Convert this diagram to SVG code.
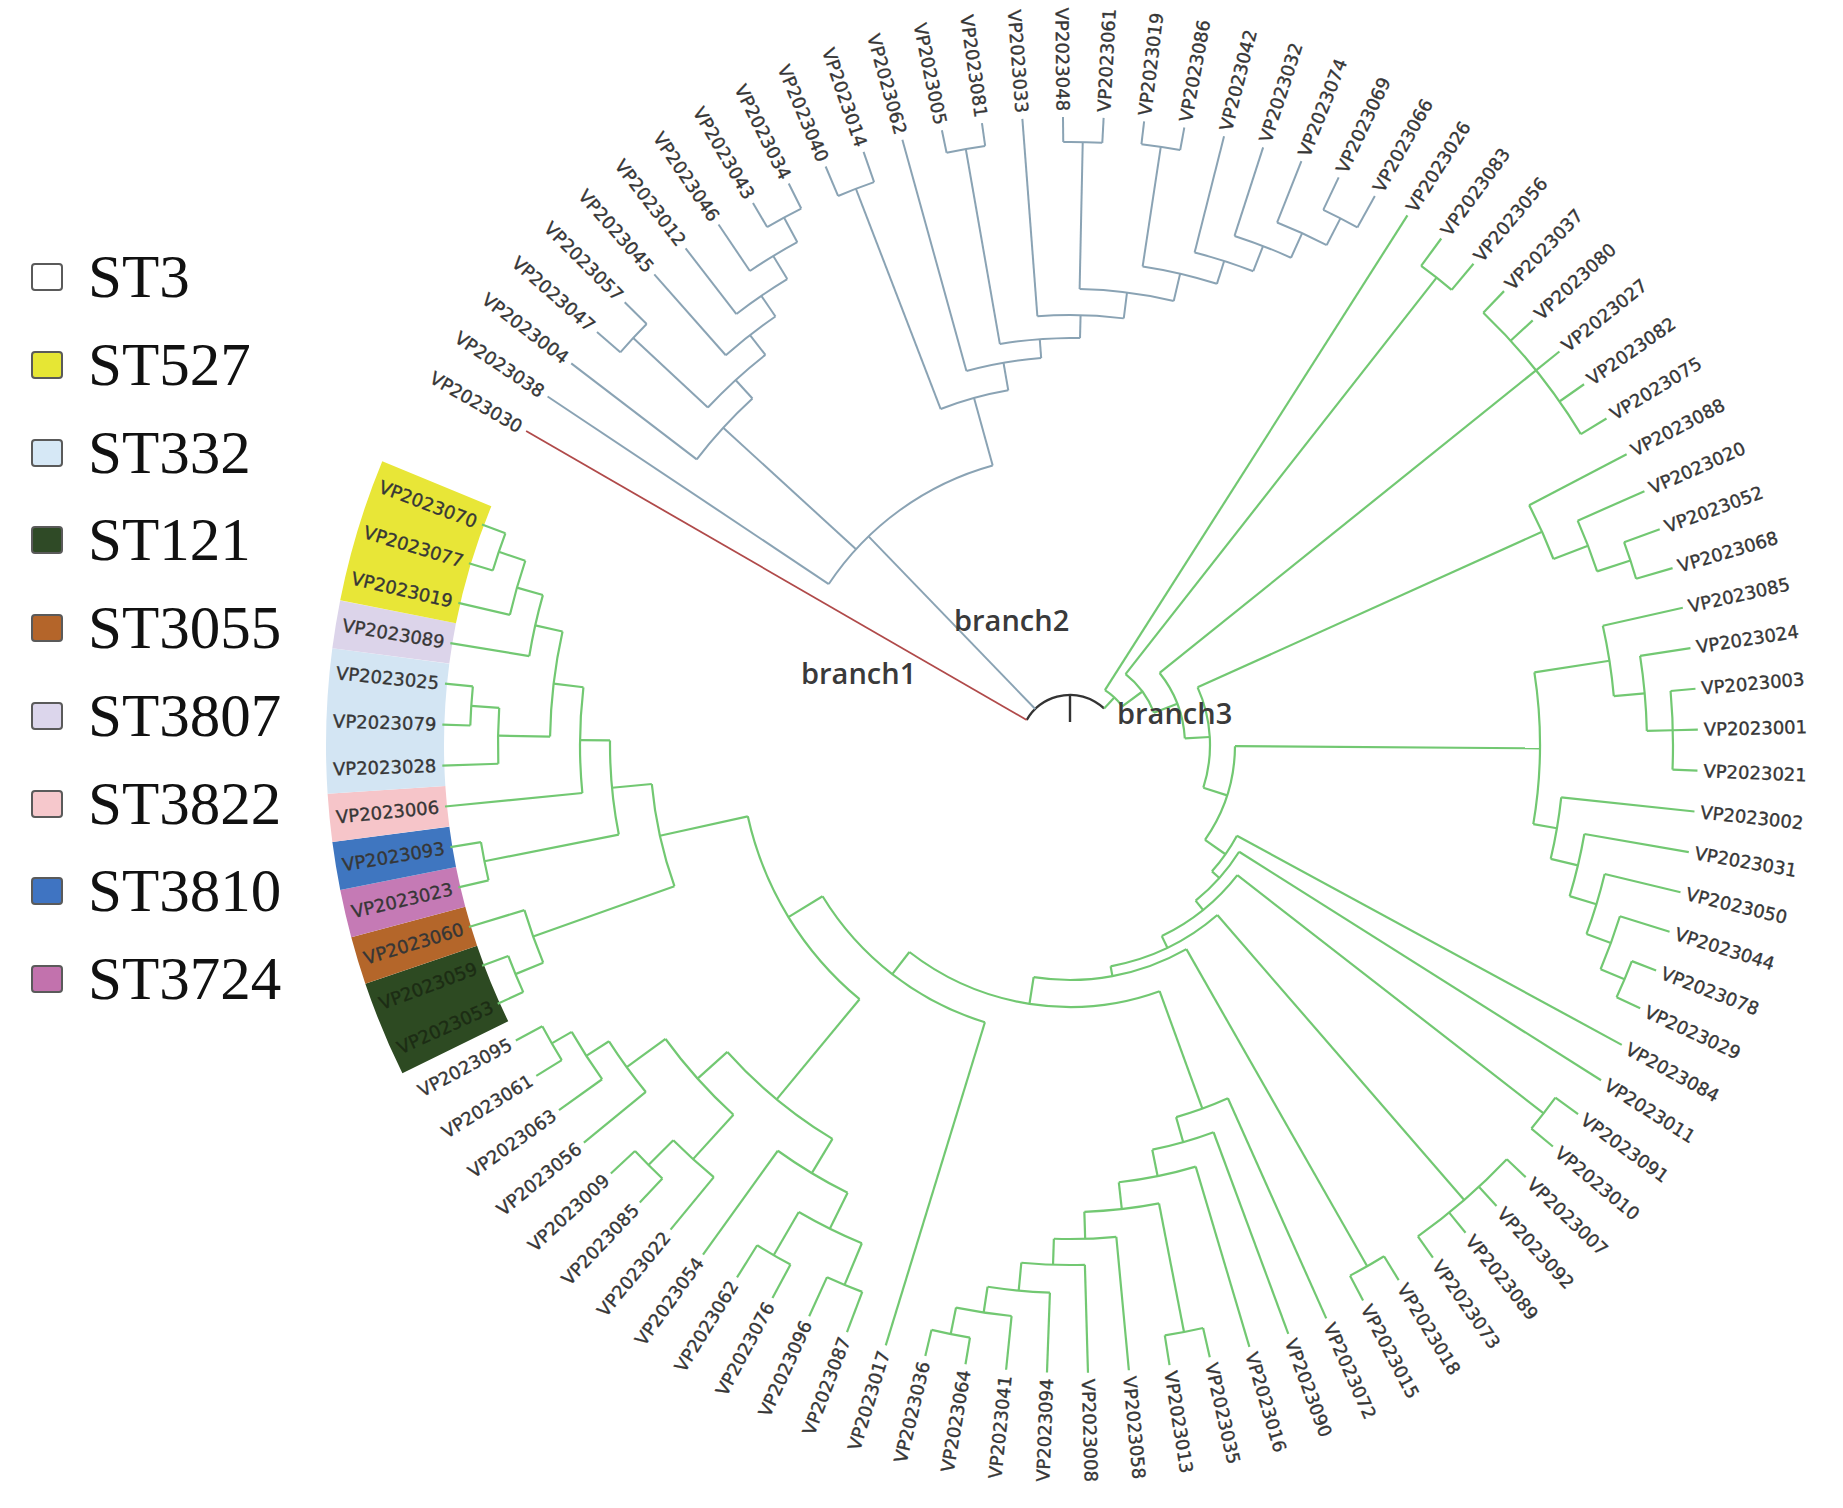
<svg xmlns="http://www.w3.org/2000/svg" width="1843" height="1508" viewBox="0 0 1843 1508">
<style>
.b1{stroke:#b04a4a;stroke-width:1.8;fill:none}
.b2{stroke:#8aa3b4;stroke-width:2;fill:none}
.b3{stroke:#72c872;stroke-width:2.2;fill:none}
.rt{stroke:#333;stroke-width:2.4;fill:none}
.lab{font-family:"DejaVu Sans",sans-serif;font-size:18px;fill:#363636;stroke:#363636;stroke-width:0.35}
.ll{text-anchor:end}
.dk{fill:#1c2c14;stroke:#1c2c14}
.leg{font-family:"Liberation Serif","Times New Roman",serif;font-size:61px;fill:#111}
.sq{stroke:#5a5a5a;stroke-width:2}
.br{font-family:"Open Sans",sans-serif;font-weight:600;font-size:29px;fill:#3a3a3a}
.hb{fill:none;stroke-width:118}
</style>
<rect width="1843" height="1508" fill="#fff"/>

<g id="legend">
<g id="legend-ST3"><rect class="sq" x="32" y="264" width="30" height="26" rx="3" fill="#ffffff"/><text class="leg" x="88" y="297">ST3</text></g>
<g id="legend-ST527"><rect class="sq" x="32" y="352" width="30" height="26" rx="3" fill="#e6e634"/><text class="leg" x="88" y="385">ST527</text></g>
<g id="legend-ST332"><rect class="sq" x="32" y="440" width="30" height="26" rx="3" fill="#d6e8f6"/><text class="leg" x="88" y="473">ST332</text></g>
<g id="legend-ST121"><rect class="sq" x="32" y="527" width="30" height="26" rx="3" fill="#2f4a26"/><text class="leg" x="88" y="560">ST121</text></g>
<g id="legend-ST3055"><rect class="sq" x="32" y="615" width="30" height="26" rx="3" fill="#b4652a"/><text class="leg" x="88" y="648">ST3055</text></g>
<g id="legend-ST3807"><rect class="sq" x="32" y="703" width="30" height="26" rx="3" fill="#dcd6ec"/><text class="leg" x="88" y="736">ST3807</text></g>
<g id="legend-ST3822"><rect class="sq" x="32" y="791" width="30" height="26" rx="3" fill="#f6c8cc"/><text class="leg" x="88" y="824">ST3822</text></g>
<g id="legend-ST3810"><rect class="sq" x="32" y="878" width="30" height="26" rx="3" fill="#3f74c2"/><text class="leg" x="88" y="911">ST3810</text></g>
<g id="legend-ST3724"><rect class="sq" x="32" y="966" width="30" height="26" rx="3" fill="#c272ad"/><text class="leg" x="88" y="999">ST3724</text></g>
</g>

<g id="highlights" transform="translate(1070 745)">
<circle class="hb" stroke="#2d4a22" r="685" pathLength="360" stroke-dasharray="7.48 400" transform="rotate(153.81)"/>
<circle class="hb" stroke="#b4662a" r="685" pathLength="360" stroke-dasharray="3.74 400" transform="rotate(161.29)"/>
<circle class="hb" stroke="#c57ab5" r="685" pathLength="360" stroke-dasharray="3.74 400" transform="rotate(165.03)"/>
<circle class="hb" stroke="#3f76c0" r="685" pathLength="360" stroke-dasharray="3.74 400" transform="rotate(168.77)"/>
<circle class="hb" stroke="#f6c5c9" r="685" pathLength="360" stroke-dasharray="3.74 400" transform="rotate(172.51)"/>
<circle class="hb" stroke="#d3e5f3" r="685" pathLength="360" stroke-dasharray="11.22 400" transform="rotate(176.25)"/>
<circle class="hb" stroke="#dcd4ea" r="685" pathLength="360" stroke-dasharray="3.74 400" transform="rotate(187.47)"/>
<circle class="hb" stroke="#e8e637" r="685" pathLength="360" stroke-dasharray="11.22 400" transform="rotate(191.21)"/>
</g>

<g id="connectors" transform="translate(1070 745)">
<g id="root">
<circle class="rt" r="50" pathLength="360" stroke-dasharray="103 400" transform="rotate(-150)"/>
<line class="rt" x1="23" x2="50" transform="rotate(-90)"/>
</g>
<g id="branch1-edges">
<line class="b1" x1="50" x2="628" transform="rotate(-150)"/>
</g>
<g id="branch2-edges">
<line class="b2" x1="50" x2="290" transform="rotate(-134)"/>
<circle class="b2" r="290" pathLength="360" stroke-dasharray="40.83 400" transform="rotate(-146.29)"/>
<circle class="b2" r="470" pathLength="360" stroke-dasharray="10.08 400" transform="rotate(-142.58)"/>
<circle class="b2" r="495" pathLength="360" stroke-dasharray="9.04 400" transform="rotate(-137.02)"/>
<circle class="b2" r="597" pathLength="360" stroke-dasharray="3.71 400" transform="rotate(-138.87)"/>
<circle class="b2" r="520" pathLength="360" stroke-dasharray="6.95 400" transform="rotate(-131.45)"/>
<circle class="b2" r="545" pathLength="360" stroke-dasharray="6.49 400" transform="rotate(-127.74)"/>
<circle class="b2" r="572" pathLength="360" stroke-dasharray="5.56 400" transform="rotate(-124.03)"/>
<circle class="b2" r="600" pathLength="360" stroke-dasharray="3.71 400" transform="rotate(-120.32)"/>
<circle class="b2" r="360" pathLength="360" stroke-dasharray="11.18 400" transform="rotate(-111.05)"/>
<circle class="b2" r="596" pathLength="360" stroke-dasharray="3.71 400" transform="rotate(-112.90)"/>
<circle class="b2" r="388" pathLength="360" stroke-dasharray="11.22 400" transform="rotate(-105.48)"/>
<circle class="b2" r="407" pathLength="360" stroke-dasharray="11.33 400" transform="rotate(-99.92)"/>
<circle class="b2" r="605" pathLength="360" stroke-dasharray="3.71 400" transform="rotate(-101.77)"/>
<circle class="b2" r="430" pathLength="360" stroke-dasharray="11.53 400" transform="rotate(-94.35)"/>
<circle class="b2" r="456" pathLength="360" stroke-dasharray="11.94 400" transform="rotate(-88.79)"/>
<circle class="b2" r="603" pathLength="360" stroke-dasharray="3.71 400" transform="rotate(-90.64)"/>
<circle class="b2" r="484" pathLength="360" stroke-dasharray="9.04 400" transform="rotate(-81.37)"/>
<circle class="b2" r="605" pathLength="360" stroke-dasharray="3.71 400" transform="rotate(-83.22)"/>
<circle class="b2" r="508" pathLength="360" stroke-dasharray="6.95 400" transform="rotate(-75.80)"/>
<circle class="b2" r="535" pathLength="360" stroke-dasharray="6.49 400" transform="rotate(-72.09)"/>
<circle class="b2" r="562" pathLength="360" stroke-dasharray="5.56 400" transform="rotate(-68.38)"/>
<circle class="b2" r="592" pathLength="360" stroke-dasharray="3.71 400" transform="rotate(-64.67)"/>
<line class="b2" x1="290" x2="628" transform="rotate(-146.29)"/>
<line class="b2" x1="290" x2="470" transform="rotate(-137.54)"/>
<line class="b2" x1="290" x2="360" transform="rotate(-105.46)"/>
<line class="b2" x1="470" x2="628" transform="rotate(-142.58)"/>
<line class="b2" x1="470" x2="495" transform="rotate(-132.50)"/>
<line class="b2" x1="495" x2="597" transform="rotate(-137.02)"/>
<line class="b2" x1="495" x2="520" transform="rotate(-127.98)"/>
<line class="b2" x1="597" x2="628" transform="rotate(-138.87)"/>
<line class="b2" x1="597" x2="628" transform="rotate(-135.16)"/>
<line class="b2" x1="520" x2="628" transform="rotate(-131.45)"/>
<line class="b2" x1="520" x2="545" transform="rotate(-124.50)"/>
<line class="b2" x1="545" x2="628" transform="rotate(-127.74)"/>
<line class="b2" x1="545" x2="572" transform="rotate(-121.25)"/>
<line class="b2" x1="572" x2="628" transform="rotate(-124.03)"/>
<line class="b2" x1="572" x2="600" transform="rotate(-118.47)"/>
<line class="b2" x1="600" x2="628" transform="rotate(-120.32)"/>
<line class="b2" x1="600" x2="628" transform="rotate(-116.61)"/>
<line class="b2" x1="360" x2="596" transform="rotate(-111.05)"/>
<line class="b2" x1="360" x2="388" transform="rotate(-99.87)"/>
<line class="b2" x1="596" x2="628" transform="rotate(-112.90)"/>
<line class="b2" x1="596" x2="628" transform="rotate(-109.19)"/>
<line class="b2" x1="388" x2="628" transform="rotate(-105.48)"/>
<line class="b2" x1="388" x2="407" transform="rotate(-94.26)"/>
<line class="b2" x1="407" x2="605" transform="rotate(-99.92)"/>
<line class="b2" x1="407" x2="430" transform="rotate(-88.59)"/>
<line class="b2" x1="605" x2="628" transform="rotate(-101.77)"/>
<line class="b2" x1="605" x2="628" transform="rotate(-98.06)"/>
<line class="b2" x1="430" x2="628" transform="rotate(-94.35)"/>
<line class="b2" x1="430" x2="456" transform="rotate(-82.82)"/>
<line class="b2" x1="456" x2="603" transform="rotate(-88.79)"/>
<line class="b2" x1="456" x2="484" transform="rotate(-76.85)"/>
<line class="b2" x1="603" x2="628" transform="rotate(-90.64)"/>
<line class="b2" x1="603" x2="628" transform="rotate(-86.93)"/>
<line class="b2" x1="484" x2="605" transform="rotate(-81.37)"/>
<line class="b2" x1="484" x2="508" transform="rotate(-72.33)"/>
<line class="b2" x1="605" x2="628" transform="rotate(-83.22)"/>
<line class="b2" x1="605" x2="628" transform="rotate(-79.51)"/>
<line class="b2" x1="508" x2="628" transform="rotate(-75.80)"/>
<line class="b2" x1="508" x2="535" transform="rotate(-68.85)"/>
<line class="b2" x1="535" x2="628" transform="rotate(-72.09)"/>
<line class="b2" x1="535" x2="562" transform="rotate(-65.60)"/>
<line class="b2" x1="562" x2="628" transform="rotate(-68.38)"/>
<line class="b2" x1="562" x2="592" transform="rotate(-62.82)"/>
<line class="b2" x1="592" x2="628" transform="rotate(-64.67)"/>
<line class="b2" x1="592" x2="628" transform="rotate(-60.96)"/>
</g>
<g id="branch3-edges">
<line class="b3" x1="50" x2="65" transform="rotate(-46.98)"/>
<circle class="b3" r="65" pathLength="360" stroke-dasharray="21.03 400" transform="rotate(-57.5)"/>
<circle class="b3" r="90" pathLength="360" stroke-dasharray="30.85 400" transform="rotate(-51.89)"/>
<circle class="b3" r="115" pathLength="360" stroke-dasharray="35.52 400" transform="rotate(-38.8)"/>
<circle class="b3" r="140" pathLength="360" stroke-dasharray="42.07 400" transform="rotate(-24.31)"/>
<circle class="b3" r="165" pathLength="360" stroke-dasharray="34.69 400" transform="rotate(0.41)"/>
<circle class="b3" r="190" pathLength="360" stroke-dasharray="13.16 400" transform="rotate(28.52)"/>
<circle class="b3" r="200" pathLength="360" stroke-dasharray="18.84 400" transform="rotate(32.26)"/>
<circle class="b3" r="212" pathLength="360" stroke-dasharray="26.48 400" transform="rotate(37.87)"/>
<circle class="b3" r="225" pathLength="360" stroke-dasharray="30.51 400" transform="rotate(49.09)"/>
<circle class="b3" r="235" pathLength="360" stroke-dasharray="38.59 400" transform="rotate(60.31)"/>
<circle class="b3" r="262" pathLength="360" stroke-dasharray="57.8 400" transform="rotate(70)"/>
<circle class="b3" r="290" pathLength="360" stroke-dasharray="41.51 400" transform="rotate(107.06)"/>
<circle class="b3" r="594" pathLength="360" stroke-dasharray="3.74 400" transform="rotate(-53.76)"/>
<circle class="b3" r="598" pathLength="360" stroke-dasharray="14.96 400" transform="rotate(-46.28)"/>
<circle class="b3" r="518" pathLength="360" stroke-dasharray="6.54 400" transform="rotate(-27.58)"/>
<circle class="b3" r="555" pathLength="360" stroke-dasharray="5.61 400" transform="rotate(-23.84)"/>
<circle class="b3" r="590" pathLength="360" stroke-dasharray="3.74 400" transform="rotate(-20.10)"/>
<circle class="b3" r="470" pathLength="360" stroke-dasharray="18.58 400" transform="rotate(-8.88)"/>
<circle class="b3" r="546" pathLength="360" stroke-dasharray="7.48 400" transform="rotate(-12.62)"/>
<circle class="b3" r="577" pathLength="360" stroke-dasharray="7.48 400" transform="rotate(-8.88)"/>
<circle class="b3" r="603" pathLength="360" stroke-dasharray="7.48 400" transform="rotate(-5.14)"/>
<circle class="b3" r="494" pathLength="360" stroke-dasharray="7.25 400" transform="rotate(6.08)"/>
<circle class="b3" r="522" pathLength="360" stroke-dasharray="7.01 400" transform="rotate(9.82)"/>
<circle class="b3" r="550" pathLength="360" stroke-dasharray="6.54 400" transform="rotate(13.56)"/>
<circle class="b3" r="576" pathLength="360" stroke-dasharray="5.61 400" transform="rotate(17.30)"/>
<circle class="b3" r="602" pathLength="360" stroke-dasharray="3.74 400" transform="rotate(21.04)"/>
<circle class="b3" r="600" pathLength="360" stroke-dasharray="3.74 400" transform="rotate(36.00)"/>
<circle class="b3" r="602" pathLength="360" stroke-dasharray="11.22 400" transform="rotate(43.48)"/>
<circle class="b3" r="600" pathLength="360" stroke-dasharray="3.74 400" transform="rotate(58.44)"/>
<circle class="b3" r="387" pathLength="360" stroke-dasharray="8.17 400" transform="rotate(65.92)"/>
<circle class="b3" r="413" pathLength="360" stroke-dasharray="8.85 400" transform="rotate(69.66)"/>
<circle class="b3" r="440" pathLength="360" stroke-dasharray="10.23 400" transform="rotate(73.40)"/>
<circle class="b3" r="467" pathLength="360" stroke-dasharray="9.23 400" transform="rotate(79.01)"/>
<circle class="b3" r="598" pathLength="360" stroke-dasharray="3.74 400" transform="rotate(77.14)"/>
<circle class="b3" r="494" pathLength="360" stroke-dasharray="7.25 400" transform="rotate(84.62)"/>
<circle class="b3" r="520" pathLength="360" stroke-dasharray="7.01 400" transform="rotate(88.36)"/>
<circle class="b3" r="548" pathLength="360" stroke-dasharray="6.55 400" transform="rotate(92.10)"/>
<circle class="b3" r="574" pathLength="360" stroke-dasharray="5.61 400" transform="rotate(95.84)"/>
<circle class="b3" r="601" pathLength="360" stroke-dasharray="3.74 400" transform="rotate(99.58)"/>
<circle class="b3" r="330" pathLength="360" stroke-dasharray="37.9 400" transform="rotate(129.62)"/>
<circle class="b3" r="460" pathLength="360" stroke-dasharray="17.06 400" transform="rotate(121.09)"/>
<circle class="b3" r="500" pathLength="360" stroke-dasharray="9.35 400" transform="rotate(116.41)"/>
<circle class="b3" r="540" pathLength="360" stroke-dasharray="7.48 400" transform="rotate(112.67)"/>
<circle class="b3" r="585" pathLength="360" stroke-dasharray="3.74 400" transform="rotate(110.80)"/>
<circle class="b3" r="590" pathLength="360" stroke-dasharray="3.74 400" transform="rotate(118.28)"/>
<circle class="b3" r="500" pathLength="360" stroke-dasharray="11.68 400" transform="rotate(132.31)"/>
<circle class="b3" r="560" pathLength="360" stroke-dasharray="5.61 400" transform="rotate(129.50)"/>
<circle class="b3" r="595" pathLength="360" stroke-dasharray="3.74 400" transform="rotate(133.24)"/>
<circle class="b3" r="548" pathLength="360" stroke-dasharray="6.55 400" transform="rotate(140.72)"/>
<circle class="b3" r="575" pathLength="360" stroke-dasharray="5.61 400" transform="rotate(144.46)"/>
<circle class="b3" r="598" pathLength="360" stroke-dasharray="3.74 400" transform="rotate(148.20)"/>
<circle class="b3" r="420" pathLength="360" stroke-dasharray="14.31 400" transform="rotate(160.36)"/>
<circle class="b3" r="570" pathLength="360" stroke-dasharray="5.61 400" transform="rotate(157.55)"/>
<circle class="b3" r="600" pathLength="360" stroke-dasharray="3.74 400" transform="rotate(155.68)"/>
<circle class="b3" r="460" pathLength="360" stroke-dasharray="11.81 400" transform="rotate(168.77)"/>
<circle class="b3" r="597" pathLength="360" stroke-dasharray="3.74 400" transform="rotate(166.90)"/>
<circle class="b3" r="490" pathLength="360" stroke-dasharray="12.39 400" transform="rotate(174.38)"/>
<circle class="b3" r="520" pathLength="360" stroke-dasharray="11.68 400" transform="rotate(180.93)"/>
<circle class="b3" r="572" pathLength="360" stroke-dasharray="5.61 400" transform="rotate(178.12)"/>
<circle class="b3" r="600" pathLength="360" stroke-dasharray="3.74 400" transform="rotate(181.86)"/>
<circle class="b3" r="548" pathLength="360" stroke-dasharray="6.54 400" transform="rotate(189.34)"/>
<circle class="b3" r="575" pathLength="360" stroke-dasharray="5.61 400" transform="rotate(193.08)"/>
<circle class="b3" r="603" pathLength="360" stroke-dasharray="3.74 400" transform="rotate(196.82)"/>
<line class="b3" x1="65" x2="628" transform="rotate(-57.5)"/>
<line class="b3" x1="65" x2="90" transform="rotate(-36.47)"/>
<line class="b3" x1="90" x2="594" transform="rotate(-51.89)"/>
<line class="b3" x1="90" x2="115" transform="rotate(-21.04)"/>
<line class="b3" x1="115" x2="598" transform="rotate(-38.8)"/>
<line class="b3" x1="115" x2="140" transform="rotate(-3.28)"/>
<line class="b3" x1="140" x2="518" transform="rotate(-24.31)"/>
<line class="b3" x1="140" x2="165" transform="rotate(17.76)"/>
<line class="b3" x1="165" x2="470" transform="rotate(0.41)"/>
<line class="b3" x1="165" x2="190" transform="rotate(35.1)"/>
<line class="b3" x1="190" x2="628" transform="rotate(28.52)"/>
<line class="b3" x1="190" x2="200" transform="rotate(41.68)"/>
<line class="b3" x1="200" x2="628" transform="rotate(32.26)"/>
<line class="b3" x1="200" x2="212" transform="rotate(51.1)"/>
<line class="b3" x1="212" x2="600" transform="rotate(37.87)"/>
<line class="b3" x1="212" x2="225" transform="rotate(64.35)"/>
<line class="b3" x1="225" x2="602" transform="rotate(49.09)"/>
<line class="b3" x1="225" x2="235" transform="rotate(79.6)"/>
<line class="b3" x1="235" x2="600" transform="rotate(60.31)"/>
<line class="b3" x1="235" x2="262" transform="rotate(98.9)"/>
<line class="b3" x1="262" x2="387" transform="rotate(70)"/>
<line class="b3" x1="262" x2="290" transform="rotate(127.8)"/>
<line class="b3" x1="290" x2="628" transform="rotate(107.06)"/>
<line class="b3" x1="290" x2="330" transform="rotate(148.57)"/>
<line class="b3" x1="594" x2="628" transform="rotate(-53.76)"/>
<line class="b3" x1="594" x2="628" transform="rotate(-50.02)"/>
<line class="b3" x1="598" x2="628" transform="rotate(-46.28)"/>
<line class="b3" x1="598" x2="628" transform="rotate(-42.54)"/>
<line class="b3" x1="598" x2="628" transform="rotate(-38.80)"/>
<line class="b3" x1="598" x2="628" transform="rotate(-35.06)"/>
<line class="b3" x1="598" x2="628" transform="rotate(-31.32)"/>
<line class="b3" x1="518" x2="628" transform="rotate(-27.58)"/>
<line class="b3" x1="518" x2="555" transform="rotate(-21.04)"/>
<line class="b3" x1="555" x2="628" transform="rotate(-23.84)"/>
<line class="b3" x1="555" x2="590" transform="rotate(-18.23)"/>
<line class="b3" x1="590" x2="628" transform="rotate(-20.10)"/>
<line class="b3" x1="590" x2="628" transform="rotate(-16.36)"/>
<line class="b3" x1="470" x2="546" transform="rotate(-8.88)"/>
<line class="b3" x1="470" x2="494" transform="rotate(9.7)"/>
<line class="b3" x1="546" x2="628" transform="rotate(-12.62)"/>
<line class="b3" x1="546" x2="577" transform="rotate(-5.14)"/>
<line class="b3" x1="577" x2="628" transform="rotate(-8.88)"/>
<line class="b3" x1="577" x2="603" transform="rotate(-1.40)"/>
<line class="b3" x1="603" x2="628" transform="rotate(-5.14)"/>
<line class="b3" x1="603" x2="628" transform="rotate(-1.40)"/>
<line class="b3" x1="603" x2="628" transform="rotate(2.34)"/>
<line class="b3" x1="494" x2="628" transform="rotate(6.08)"/>
<line class="b3" x1="494" x2="522" transform="rotate(13.33)"/>
<line class="b3" x1="522" x2="628" transform="rotate(9.82)"/>
<line class="b3" x1="522" x2="550" transform="rotate(16.83)"/>
<line class="b3" x1="550" x2="628" transform="rotate(13.56)"/>
<line class="b3" x1="550" x2="576" transform="rotate(20.10)"/>
<line class="b3" x1="576" x2="628" transform="rotate(17.30)"/>
<line class="b3" x1="576" x2="602" transform="rotate(22.91)"/>
<line class="b3" x1="602" x2="628" transform="rotate(21.04)"/>
<line class="b3" x1="602" x2="628" transform="rotate(24.78)"/>
<line class="b3" x1="600" x2="628" transform="rotate(36.00)"/>
<line class="b3" x1="600" x2="628" transform="rotate(39.74)"/>
<line class="b3" x1="602" x2="628" transform="rotate(43.48)"/>
<line class="b3" x1="602" x2="628" transform="rotate(47.22)"/>
<line class="b3" x1="602" x2="628" transform="rotate(50.96)"/>
<line class="b3" x1="602" x2="628" transform="rotate(54.70)"/>
<line class="b3" x1="600" x2="628" transform="rotate(58.44)"/>
<line class="b3" x1="600" x2="628" transform="rotate(62.18)"/>
<line class="b3" x1="387" x2="628" transform="rotate(65.92)"/>
<line class="b3" x1="387" x2="413" transform="rotate(74.09)"/>
<line class="b3" x1="413" x2="628" transform="rotate(69.66)"/>
<line class="b3" x1="413" x2="440" transform="rotate(78.51)"/>
<line class="b3" x1="440" x2="628" transform="rotate(73.40)"/>
<line class="b3" x1="440" x2="467" transform="rotate(83.63)"/>
<line class="b3" x1="467" x2="598" transform="rotate(79.01)"/>
<line class="b3" x1="467" x2="494" transform="rotate(88.24)"/>
<line class="b3" x1="598" x2="628" transform="rotate(77.14)"/>
<line class="b3" x1="598" x2="628" transform="rotate(80.88)"/>
<line class="b3" x1="494" x2="628" transform="rotate(84.62)"/>
<line class="b3" x1="494" x2="520" transform="rotate(91.87)"/>
<line class="b3" x1="520" x2="628" transform="rotate(88.36)"/>
<line class="b3" x1="520" x2="548" transform="rotate(95.37)"/>
<line class="b3" x1="548" x2="628" transform="rotate(92.10)"/>
<line class="b3" x1="548" x2="574" transform="rotate(98.65)"/>
<line class="b3" x1="574" x2="628" transform="rotate(95.84)"/>
<line class="b3" x1="574" x2="601" transform="rotate(101.45)"/>
<line class="b3" x1="601" x2="628" transform="rotate(99.58)"/>
<line class="b3" x1="601" x2="628" transform="rotate(103.32)"/>
<line class="b3" x1="330" x2="460" transform="rotate(129.62)"/>
<line class="b3" x1="330" x2="420" transform="rotate(167.52)"/>
<line class="b3" x1="460" x2="500" transform="rotate(121.09)"/>
<line class="b3" x1="460" x2="500" transform="rotate(138.15)"/>
<line class="b3" x1="500" x2="540" transform="rotate(116.41)"/>
<line class="b3" x1="500" x2="628" transform="rotate(125.76)"/>
<line class="b3" x1="540" x2="585" transform="rotate(112.67)"/>
<line class="b3" x1="540" x2="590" transform="rotate(120.15)"/>
<line class="b3" x1="585" x2="628" transform="rotate(110.80)"/>
<line class="b3" x1="585" x2="628" transform="rotate(114.54)"/>
<line class="b3" x1="590" x2="628" transform="rotate(118.28)"/>
<line class="b3" x1="590" x2="628" transform="rotate(122.02)"/>
<line class="b3" x1="500" x2="560" transform="rotate(132.31)"/>
<line class="b3" x1="500" x2="548" transform="rotate(143.99)"/>
<line class="b3" x1="560" x2="628" transform="rotate(129.50)"/>
<line class="b3" x1="560" x2="595" transform="rotate(135.11)"/>
<line class="b3" x1="595" x2="628" transform="rotate(133.24)"/>
<line class="b3" x1="595" x2="628" transform="rotate(136.98)"/>
<line class="b3" x1="548" x2="628" transform="rotate(140.72)"/>
<line class="b3" x1="548" x2="575" transform="rotate(147.27)"/>
<line class="b3" x1="575" x2="628" transform="rotate(144.46)"/>
<line class="b3" x1="575" x2="598" transform="rotate(150.07)"/>
<line class="b3" x1="598" x2="628" transform="rotate(148.20)"/>
<line class="b3" x1="598" x2="628" transform="rotate(151.94)"/>
<line class="b3" x1="420" x2="570" transform="rotate(160.36)"/>
<line class="b3" x1="420" x2="460" transform="rotate(174.67)"/>
<line class="b3" x1="570" x2="600" transform="rotate(157.55)"/>
<line class="b3" x1="570" x2="628" transform="rotate(163.16)"/>
<line class="b3" x1="600" x2="628" transform="rotate(155.68)"/>
<line class="b3" x1="600" x2="628" transform="rotate(159.42)"/>
<line class="b3" x1="460" x2="597" transform="rotate(168.77)"/>
<line class="b3" x1="460" x2="490" transform="rotate(180.58)"/>
<line class="b3" x1="597" x2="628" transform="rotate(166.90)"/>
<line class="b3" x1="597" x2="628" transform="rotate(170.64)"/>
<line class="b3" x1="490" x2="628" transform="rotate(174.38)"/>
<line class="b3" x1="490" x2="520" transform="rotate(186.77)"/>
<line class="b3" x1="520" x2="572" transform="rotate(180.93)"/>
<line class="b3" x1="520" x2="548" transform="rotate(192.61)"/>
<line class="b3" x1="572" x2="628" transform="rotate(178.12)"/>
<line class="b3" x1="572" x2="600" transform="rotate(183.73)"/>
<line class="b3" x1="600" x2="628" transform="rotate(181.86)"/>
<line class="b3" x1="600" x2="628" transform="rotate(185.60)"/>
<line class="b3" x1="548" x2="628" transform="rotate(189.34)"/>
<line class="b3" x1="548" x2="575" transform="rotate(195.88)"/>
<line class="b3" x1="575" x2="628" transform="rotate(193.08)"/>
<line class="b3" x1="575" x2="603" transform="rotate(198.69)"/>
<line class="b3" x1="603" x2="628" transform="rotate(196.82)"/>
<line class="b3" x1="603" x2="628" transform="rotate(200.56)"/>
</g>
</g>

<g id="branch-labels">
<g id="label-branch1"><text class="br" x="801" y="684">branch1</text></g>
<g id="label-branch2"><text class="br" x="954" y="631">branch2</text></g>
<g id="label-branch3"><text class="br" x="1117" y="724">branch3</text></g>
</g>

<g id="leaves" transform="translate(1070 745)">
<g id="leaf-VP2023030"><text class="lab ll" dy=".35em" transform="rotate(-150) translate(634 0) rotate(180)">VP2023030</text></g>
<g id="leaf-VP2023038"><text class="lab ll" dy=".35em" transform="rotate(-146.29) translate(634 0) rotate(180)">VP2023038</text></g>
<g id="leaf-VP2023004"><text class="lab ll" dy=".35em" transform="rotate(-142.58) translate(634 0) rotate(180)">VP2023004</text></g>
<g id="leaf-VP2023047"><text class="lab ll" dy=".35em" transform="rotate(-138.87) translate(634 0) rotate(180)">VP2023047</text></g>
<g id="leaf-VP2023057"><text class="lab ll" dy=".35em" transform="rotate(-135.16) translate(634 0) rotate(180)">VP2023057</text></g>
<g id="leaf-VP2023045"><text class="lab ll" dy=".35em" transform="rotate(-131.45) translate(634 0) rotate(180)">VP2023045</text></g>
<g id="leaf-VP2023012"><text class="lab ll" dy=".35em" transform="rotate(-127.74) translate(634 0) rotate(180)">VP2023012</text></g>
<g id="leaf-VP2023046"><text class="lab ll" dy=".35em" transform="rotate(-124.03) translate(634 0) rotate(180)">VP2023046</text></g>
<g id="leaf-VP2023043"><text class="lab ll" dy=".35em" transform="rotate(-120.32) translate(634 0) rotate(180)">VP2023043</text></g>
<g id="leaf-VP2023034"><text class="lab ll" dy=".35em" transform="rotate(-116.61) translate(634 0) rotate(180)">VP2023034</text></g>
<g id="leaf-VP2023040"><text class="lab ll" dy=".35em" transform="rotate(-112.90) translate(634 0) rotate(180)">VP2023040</text></g>
<g id="leaf-VP2023014"><text class="lab ll" dy=".35em" transform="rotate(-109.19) translate(634 0) rotate(180)">VP2023014</text></g>
<g id="leaf-VP2023062a"><text class="lab ll" dy=".35em" transform="rotate(-105.48) translate(634 0) rotate(180)">VP2023062</text></g>
<g id="leaf-VP2023005"><text class="lab ll" dy=".35em" transform="rotate(-101.77) translate(634 0) rotate(180)">VP2023005</text></g>
<g id="leaf-VP2023081"><text class="lab ll" dy=".35em" transform="rotate(-98.06) translate(634 0) rotate(180)">VP2023081</text></g>
<g id="leaf-VP2023033"><text class="lab ll" dy=".35em" transform="rotate(-94.35) translate(634 0) rotate(180)">VP2023033</text></g>
<g id="leaf-VP2023048"><text class="lab ll" dy=".35em" transform="rotate(-90.64) translate(634 0) rotate(180)">VP2023048</text></g>
<g id="leaf-VP2023061a"><text class="lab" dy=".35em" transform="rotate(-86.93) translate(634 0)">VP2023061</text></g>
<g id="leaf-VP2023019a"><text class="lab" dy=".35em" transform="rotate(-83.22) translate(634 0)">VP2023019</text></g>
<g id="leaf-VP2023086"><text class="lab" dy=".35em" transform="rotate(-79.51) translate(634 0)">VP2023086</text></g>
<g id="leaf-VP2023042"><text class="lab" dy=".35em" transform="rotate(-75.80) translate(634 0)">VP2023042</text></g>
<g id="leaf-VP2023032"><text class="lab" dy=".35em" transform="rotate(-72.09) translate(634 0)">VP2023032</text></g>
<g id="leaf-VP2023074"><text class="lab" dy=".35em" transform="rotate(-68.38) translate(634 0)">VP2023074</text></g>
<g id="leaf-VP2023069"><text class="lab" dy=".35em" transform="rotate(-64.67) translate(634 0)">VP2023069</text></g>
<g id="leaf-VP2023066"><text class="lab" dy=".35em" transform="rotate(-60.96) translate(634 0)">VP2023066</text></g>
<g id="leaf-VP2023026"><text class="lab" dy=".35em" transform="rotate(-57.50) translate(634 0)">VP2023026</text></g>
<g id="leaf-VP2023083"><text class="lab" dy=".35em" transform="rotate(-53.76) translate(634 0)">VP2023083</text></g>
<g id="leaf-VP2023056a"><text class="lab" dy=".35em" transform="rotate(-50.02) translate(634 0)">VP2023056</text></g>
<g id="leaf-VP2023037"><text class="lab" dy=".35em" transform="rotate(-46.28) translate(634 0)">VP2023037</text></g>
<g id="leaf-VP2023080"><text class="lab" dy=".35em" transform="rotate(-42.54) translate(634 0)">VP2023080</text></g>
<g id="leaf-VP2023027"><text class="lab" dy=".35em" transform="rotate(-38.80) translate(634 0)">VP2023027</text></g>
<g id="leaf-VP2023082"><text class="lab" dy=".35em" transform="rotate(-35.06) translate(634 0)">VP2023082</text></g>
<g id="leaf-VP2023075"><text class="lab" dy=".35em" transform="rotate(-31.32) translate(634 0)">VP2023075</text></g>
<g id="leaf-VP2023088"><text class="lab" dy=".35em" transform="rotate(-27.58) translate(634 0)">VP2023088</text></g>
<g id="leaf-VP2023020"><text class="lab" dy=".35em" transform="rotate(-23.84) translate(634 0)">VP2023020</text></g>
<g id="leaf-VP2023052"><text class="lab" dy=".35em" transform="rotate(-20.10) translate(634 0)">VP2023052</text></g>
<g id="leaf-VP2023068"><text class="lab" dy=".35em" transform="rotate(-16.36) translate(634 0)">VP2023068</text></g>
<g id="leaf-VP2023085a"><text class="lab" dy=".35em" transform="rotate(-12.62) translate(634 0)">VP2023085</text></g>
<g id="leaf-VP2023024"><text class="lab" dy=".35em" transform="rotate(-8.88) translate(634 0)">VP2023024</text></g>
<g id="leaf-VP2023003"><text class="lab" dy=".35em" transform="rotate(-5.14) translate(634 0)">VP2023003</text></g>
<g id="leaf-VP2023001"><text class="lab" dy=".35em" transform="rotate(-1.40) translate(634 0)">VP2023001</text></g>
<g id="leaf-VP2023021"><text class="lab" dy=".35em" transform="rotate(2.34) translate(634 0)">VP2023021</text></g>
<g id="leaf-VP2023002"><text class="lab" dy=".35em" transform="rotate(6.08) translate(634 0)">VP2023002</text></g>
<g id="leaf-VP2023031"><text class="lab" dy=".35em" transform="rotate(9.82) translate(634 0)">VP2023031</text></g>
<g id="leaf-VP2023050"><text class="lab" dy=".35em" transform="rotate(13.56) translate(634 0)">VP2023050</text></g>
<g id="leaf-VP2023044"><text class="lab" dy=".35em" transform="rotate(17.30) translate(634 0)">VP2023044</text></g>
<g id="leaf-VP2023078"><text class="lab" dy=".35em" transform="rotate(21.04) translate(634 0)">VP2023078</text></g>
<g id="leaf-VP2023029"><text class="lab" dy=".35em" transform="rotate(24.78) translate(634 0)">VP2023029</text></g>
<g id="leaf-VP2023084"><text class="lab" dy=".35em" transform="rotate(28.52) translate(634 0)">VP2023084</text></g>
<g id="leaf-VP2023011"><text class="lab" dy=".35em" transform="rotate(32.26) translate(634 0)">VP2023011</text></g>
<g id="leaf-VP2023091"><text class="lab" dy=".35em" transform="rotate(36.00) translate(634 0)">VP2023091</text></g>
<g id="leaf-VP2023010"><text class="lab" dy=".35em" transform="rotate(39.74) translate(634 0)">VP2023010</text></g>
<g id="leaf-VP2023007"><text class="lab" dy=".35em" transform="rotate(43.48) translate(634 0)">VP2023007</text></g>
<g id="leaf-VP2023092"><text class="lab" dy=".35em" transform="rotate(47.22) translate(634 0)">VP2023092</text></g>
<g id="leaf-VP2023089a"><text class="lab" dy=".35em" transform="rotate(50.96) translate(634 0)">VP2023089</text></g>
<g id="leaf-VP2023073"><text class="lab" dy=".35em" transform="rotate(54.70) translate(634 0)">VP2023073</text></g>
<g id="leaf-VP2023018"><text class="lab" dy=".35em" transform="rotate(58.44) translate(634 0)">VP2023018</text></g>
<g id="leaf-VP2023015"><text class="lab" dy=".35em" transform="rotate(62.18) translate(634 0)">VP2023015</text></g>
<g id="leaf-VP2023072"><text class="lab" dy=".35em" transform="rotate(65.92) translate(634 0)">VP2023072</text></g>
<g id="leaf-VP2023090"><text class="lab" dy=".35em" transform="rotate(69.66) translate(634 0)">VP2023090</text></g>
<g id="leaf-VP2023016"><text class="lab" dy=".35em" transform="rotate(73.40) translate(634 0)">VP2023016</text></g>
<g id="leaf-VP2023035"><text class="lab" dy=".35em" transform="rotate(77.14) translate(634 0)">VP2023035</text></g>
<g id="leaf-VP2023013"><text class="lab" dy=".35em" transform="rotate(80.88) translate(634 0)">VP2023013</text></g>
<g id="leaf-VP2023058"><text class="lab" dy=".35em" transform="rotate(84.62) translate(634 0)">VP2023058</text></g>
<g id="leaf-VP2023008"><text class="lab" dy=".35em" transform="rotate(88.36) translate(634 0)">VP2023008</text></g>
<g id="leaf-VP2023094"><text class="lab ll" dy=".35em" transform="rotate(92.10) translate(634 0) rotate(180)">VP2023094</text></g>
<g id="leaf-VP2023041"><text class="lab ll" dy=".35em" transform="rotate(95.84) translate(634 0) rotate(180)">VP2023041</text></g>
<g id="leaf-VP2023064"><text class="lab ll" dy=".35em" transform="rotate(99.58) translate(634 0) rotate(180)">VP2023064</text></g>
<g id="leaf-VP2023036"><text class="lab ll" dy=".35em" transform="rotate(103.32) translate(634 0) rotate(180)">VP2023036</text></g>
<g id="leaf-VP2023017"><text class="lab ll" dy=".35em" transform="rotate(107.06) translate(634 0) rotate(180)">VP2023017</text></g>
<g id="leaf-VP2023087"><text class="lab ll" dy=".35em" transform="rotate(110.80) translate(634 0) rotate(180)">VP2023087</text></g>
<g id="leaf-VP2023096"><text class="lab ll" dy=".35em" transform="rotate(114.54) translate(634 0) rotate(180)">VP2023096</text></g>
<g id="leaf-VP2023076"><text class="lab ll" dy=".35em" transform="rotate(118.28) translate(634 0) rotate(180)">VP2023076</text></g>
<g id="leaf-VP2023062b"><text class="lab ll" dy=".35em" transform="rotate(122.02) translate(634 0) rotate(180)">VP2023062</text></g>
<g id="leaf-VP2023054"><text class="lab ll" dy=".35em" transform="rotate(125.76) translate(634 0) rotate(180)">VP2023054</text></g>
<g id="leaf-VP2023022"><text class="lab ll" dy=".35em" transform="rotate(129.50) translate(634 0) rotate(180)">VP2023022</text></g>
<g id="leaf-VP2023085b"><text class="lab ll" dy=".35em" transform="rotate(133.24) translate(634 0) rotate(180)">VP2023085</text></g>
<g id="leaf-VP2023009"><text class="lab ll" dy=".35em" transform="rotate(136.98) translate(634 0) rotate(180)">VP2023009</text></g>
<g id="leaf-VP2023056b"><text class="lab ll" dy=".35em" transform="rotate(140.72) translate(634 0) rotate(180)">VP2023056</text></g>
<g id="leaf-VP2023063"><text class="lab ll" dy=".35em" transform="rotate(144.46) translate(634 0) rotate(180)">VP2023063</text></g>
<g id="leaf-VP2023061b"><text class="lab ll" dy=".35em" transform="rotate(148.20) translate(634 0) rotate(180)">VP2023061</text></g>
<g id="leaf-VP2023095"><text class="lab ll" dy=".35em" transform="rotate(151.94) translate(634 0) rotate(180)">VP2023095</text></g>
<g id="leaf-VP2023053"><text class="lab ll dk" dy=".35em" transform="rotate(155.68) translate(634 0) rotate(180)">VP2023053</text></g>
<g id="leaf-VP2023059"><text class="lab ll dk" dy=".35em" transform="rotate(159.42) translate(634 0) rotate(180)">VP2023059</text></g>
<g id="leaf-VP2023060"><text class="lab ll" dy=".35em" transform="rotate(163.16) translate(634 0) rotate(180)">VP2023060</text></g>
<g id="leaf-VP2023023"><text class="lab ll" dy=".35em" transform="rotate(166.90) translate(634 0) rotate(180)">VP2023023</text></g>
<g id="leaf-VP2023093"><text class="lab ll" dy=".35em" transform="rotate(170.64) translate(634 0) rotate(180)">VP2023093</text></g>
<g id="leaf-VP2023006"><text class="lab ll" dy=".35em" transform="rotate(174.38) translate(634 0) rotate(180)">VP2023006</text></g>
<g id="leaf-VP2023028"><text class="lab ll" dy=".35em" transform="rotate(178.12) translate(634 0) rotate(180)">VP2023028</text></g>
<g id="leaf-VP2023079"><text class="lab ll" dy=".35em" transform="rotate(181.86) translate(634 0) rotate(180)">VP2023079</text></g>
<g id="leaf-VP2023025"><text class="lab ll" dy=".35em" transform="rotate(185.60) translate(634 0) rotate(180)">VP2023025</text></g>
<g id="leaf-VP2023089b"><text class="lab ll" dy=".35em" transform="rotate(189.34) translate(634 0) rotate(180)">VP2023089</text></g>
<g id="leaf-VP2023019b"><text class="lab ll" dy=".35em" transform="rotate(193.08) translate(634 0) rotate(180)">VP2023019</text></g>
<g id="leaf-VP2023077"><text class="lab ll" dy=".35em" transform="rotate(196.82) translate(634 0) rotate(180)">VP2023077</text></g>
<g id="leaf-VP2023070"><text class="lab ll" dy=".35em" transform="rotate(200.56) translate(634 0) rotate(180)">VP2023070</text></g>
</g>
</svg>
